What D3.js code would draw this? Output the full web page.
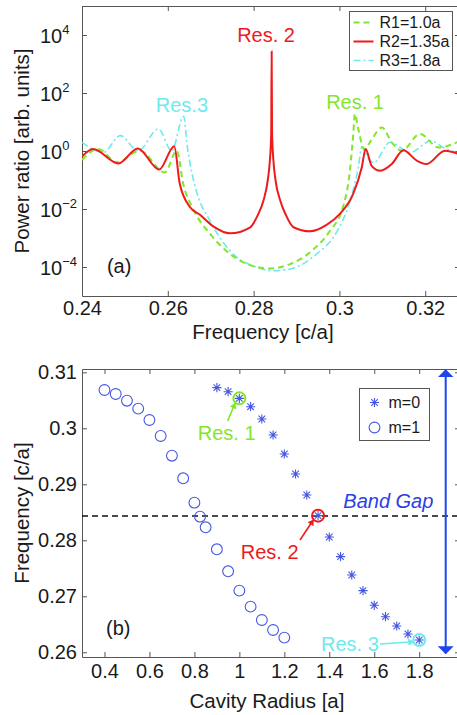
<!DOCTYPE html>
<html>
<head>
<meta charset="utf-8">
<script src="https://cdnjs.cloudflare.com/ajax/libs/d3/7.8.5/d3.min.js"></script>
<style>
  body { margin: 0; background: #fff; }
  svg { display: block; font-family: "Liberation Sans", Arial, sans-serif; }
</style>
</head>
<body>
<div id="chart"></div>
<script>
// ---- panel (a): transmission spectra, [frequency c/a, log10(power ratio)] ----
const specR1 = [
  [0.2400,-0.31],[0.2438,0.07],[0.2481,-0.39],[0.2535,0.01],[0.2593,-0.74],[0.2621,0.01],
  [0.2636,-1.14],[0.2659,-2.0],[0.2698,-2.85],[0.2745,-3.55],[0.2807,-4.0],[0.2838,-4.05],
  [0.2885,-3.9],[0.2939,-3.4],[0.2978,-2.75],[0.3009,-1.9],[0.3025,-0.6],[0.3032,0.55],
  [0.3036,1.28],[0.3044,0.75],[0.3058,0.05],[0.3071,0.3],[0.3099,0.81],[0.3122,0.3],
  [0.3145,0.01],[0.3188,0.59],[0.3231,0.12],[0.3281,0.35]
];
const specR2 = [
  [0.2400,-0.19],[0.2426,0.07],[0.2485,-0.43],[0.2530,0.09],[0.2580,-0.64],[0.2615,0.16],
  [0.2628,-1.14],[0.2652,-1.94],[0.2675,-2.2],[0.2706,-2.6],[0.2745,-2.84],[0.2792,-2.63],
  [0.2810,-2.2],[0.2823,-1.71],[0.2833,-1.0],[0.2838,-0.3],[0.2841,0.6],[0.2842,3.43],
  [0.2843,0.6],[0.2846,-0.3],[0.2851,-1.0],[0.2862,-1.71],[0.2875,-2.2],[0.2893,-2.63],
  [0.2931,-2.77],[0.2970,-2.55],[0.3001,-2.17],[0.3032,-1.48],[0.3052,-0.57],[0.3061,0.07],
  [0.3075,-0.51],[0.3095,-0.68],[0.3122,-0.45],[0.3149,0.03],[0.3180,-0.33],[0.3203,-0.45],
  [0.3246,0.01],[0.3281,-0.12]
];
const specR3 = [
  [0.2400,0.3],[0.2450,-0.05],[0.2489,0.53],[0.2531,0.01],[0.2578,0.76],[0.2609,0.01],
  [0.2637,1.2],[0.2645,0.2],[0.2652,-0.45],[0.2667,-1.4],[0.2698,-2.4],[0.2745,-3.44],
  [0.2807,-4.01],[0.2846,-4.13],[0.2885,-4.07],[0.2947,-3.55],[0.2994,-2.78],[0.3025,-1.71],
  [0.3044,-0.57],[0.3052,0.15],[0.3067,-0.25],[0.3080,-0.4],[0.3118,0.3],[0.3165,-0.05],
  [0.3213,0.35],[0.3242,0.12],[0.3281,-0.1]
];
const seriesNames = ["R1=1.0a", "R2=1.35a", "R3=1.8a"];
const freqTicks = [0.24, 0.26, 0.28, 0.3, 0.32];
const powerExpTicks = [-4, -2, 0, 2, 4];

// ---- panel (b): cavity modes, [radius a, frequency c/a] ----
const modeM0 = [
  [0.9,0.30726],[0.95,0.30654],[1.0,0.30535],[1.05,0.30386],[1.1,0.30166],[1.15,0.29880],
  [1.2,0.29541],[1.25,0.29184],[1.3,0.28809],[1.35,0.28440],[1.4,0.28059],[1.45,0.27708],
  [1.5,0.27380],[1.55,0.27101],[1.6,0.26839],[1.65,0.26636],[1.7,0.26470],[1.75,0.26327],
  [1.8,0.26220]
];
const modeM1 = [
  [0.4,0.30684],[0.45,0.30613],[0.5,0.30493],[0.55,0.30351],[0.6,0.30148],[0.65,0.29863],
  [0.7,0.29511],[0.75,0.29107],[0.8,0.28672],[0.825,0.28422],[0.85,0.28232],[0.9,0.27839],
  [0.95,0.27446],[1.0,0.27101],[1.05,0.26815],[1.1,0.26577],[1.15,0.26398],[1.2,0.26262]
];
const modeNames = ["m=0", "m=1"];
const radiusTicks = [0.4, 0.6, 0.8, 1, 1.2, 1.4, 1.6, 1.8];
const modeFreqTicks = [0.26, 0.27, 0.28, 0.29, 0.3, 0.31];
const bandGapFreq = 0.28434;
const resonances = [[1.0,0.30535],[1.35,0.2844],[1.8,0.2622]];

const colR1 = "#82e62c", colR2 = "#ee1b1b", colR3 = "#6ceaee";
const resColors = [colR1, colR2, colR3];
const markBlue = "#4658e2";

const svg = d3.select("#chart").append("svg")
  .attr("width", 457).attr("height", 715);

const axisColor = "#555";

function styleAxis(g) {
  g.select(".domain").attr("stroke", axisColor);
  g.selectAll(".tick line").attr("stroke", axisColor);
  g.selectAll("text").attr("font-size", 20).attr("fill", "#1a1a1a");
}

// ================= panel (a) =================
const A = {left: 82, right: 460, top: 6, bottom: 296};
const xA = d3.scaleLinear().domain([0.24, 0.3281]).range([A.left, A.right]);
const yA = d3.scaleLog().domain([1e-5, 1e5]).range([A.bottom, A.top]);

svg.append("clipPath").attr("id", "clipA").append("rect")
  .attr("x", A.left).attr("y", A.top).attr("width", A.right - A.left).attr("height", A.bottom - A.top);

const gxA = svg.append("g").attr("transform", `translate(0,${A.bottom})`)
  .call(d3.axisBottom(xA).tickValues(freqTicks).tickFormat(d => String(d))
    .tickSizeInner(-5).tickSizeOuter(0).tickPadding(5));
styleAxis(gxA);
const gxA2 = svg.append("g").attr("transform", `translate(0,${A.top})`)
  .call(d3.axisTop(xA).tickValues(freqTicks).tickFormat("").tickSizeInner(-5).tickSizeOuter(0));
styleAxis(gxA2);

const gyA = svg.append("g").attr("transform", `translate(${A.left},0)`)
  .call(d3.axisLeft(yA).tickValues(powerExpTicks.map(e => Math.pow(10, e))).tickFormat("")
    .tickSizeInner(-5).tickSizeOuter(0));
styleAxis(gyA);
gyA.selectAll(".tick").each(function(d, i) {
  const t = d3.select(this).append("text")
    .attr("x", -42).attr("dy", "0.37em").attr("text-anchor", "start")
    .attr("font-size", 20).attr("fill", "#1a1a1a").text("10");
  t.append("tspan").attr("dy", -9).attr("font-size", 13)
    .text(String(powerExpTicks[i]).replace("-", "\u2212"));
});
const gyA2 = svg.append("g").attr("transform", `translate(${A.right},0)`)
  .call(d3.axisRight(yA).tickValues(powerExpTicks.map(e => Math.pow(10, e))).tickFormat("")
    .tickSizeInner(-5).tickSizeOuter(0));
styleAxis(gyA2);

const lineA = d3.line()
  .x(d => xA(d[0]))
  .y(d => yA(Math.pow(10, d[1])))
  .curve(d3.curveMonotoneX);

const plotA = svg.append("g").attr("clip-path", "url(#clipA)");
plotA.append("path").datum(specR3).attr("d", lineA)
  .attr("fill", "none").attr("stroke", colR3).attr("stroke-width", 1.6)
  .attr("stroke-dasharray", "7,3,2,3");
plotA.append("path").datum(specR1).attr("d", lineA)
  .attr("fill", "none").attr("stroke", colR1).attr("stroke-width", 2)
  .attr("stroke-dasharray", "6,4");
plotA.append("path").datum(specR2).attr("d", lineA)
  .attr("fill", "none").attr("stroke", colR2).attr("stroke-width", 2);

// annotations (a), in data units
const notesA = [
  {t: "Res. 2", f: 0.2829, e: 3.77, c: colR2, a: "middle"},
  {t: "Res.3", f: 0.2572, e: 1.355, c: colR3, a: "start"},
  {t: "Res. 1", f: 0.2969, e: 1.45, c: colR1, a: "start"},
  {t: "(a)", f: 0.2458, e: -4.21, c: "#1a1a1a", a: "start"}
];
svg.append("g").selectAll("text").data(notesA).join("text")
  .attr("x", d => xA(d.f)).attr("y", d => yA(Math.pow(10, d.e)))
  .attr("text-anchor", d => d.a).attr("font-size", 20).attr("fill", d => d.c)
  .text(d => d.t);

// legend (a)
const legA = svg.append("g").attr("transform", "translate(349.5,11.5)");
legA.append("rect").attr("width", 103).attr("height", 59)
  .attr("fill", "#fff").attr("stroke", "#555").attr("stroke-width", 1);
const legStyles = [
  {c: colR1, w: 2, dash: "6,4"},
  {c: colR2, w: 2, dash: null},
  {c: colR3, w: 1.6, dash: "7,3,2,3"}
];
seriesNames.forEach((name, i) => {
  const yy = 11 + i * 19;
  legA.append("line").attr("x1", 4).attr("x2", 24).attr("y1", yy).attr("y2", yy)
    .attr("stroke", legStyles[i].c).attr("stroke-width", legStyles[i].w)
    .attr("stroke-dasharray", legStyles[i].dash);
  legA.append("text").attr("x", 30).attr("y", yy).attr("dy", "0.36em")
    .attr("font-size", 16).attr("fill", "#1a1a1a").text(name);
});

svg.append("text")
  .attr("x", (A.left + A.right) / 2 - 1 - 7).attr("y", 339)
  .attr("text-anchor", "middle").attr("font-size", 20.5).attr("fill", "#1a1a1a")
  .text("Frequency [c/a]");
svg.append("text")
  .attr("transform", `translate(29,${(A.top + A.bottom) / 2}) rotate(-90)`)
  .attr("text-anchor", "middle").attr("font-size", 20.5).attr("fill", "#1a1a1a")
  .text("Power ratio [arb. units]");

// ================= panel (b) =================
const B = {left: 82, right: 460, top: 369, bottom: 657};
const xB = d3.scaleLinear().domain([0.3, 1.9815]).range([B.left, B.right]);
const yB = d3.scaleLinear().domain([0.25916, 0.31059]).range([B.bottom, B.top]);

const gxB = svg.append("g").attr("transform", `translate(0,${B.bottom})`)
  .call(d3.axisBottom(xB).tickValues(radiusTicks).tickFormat(d => String(d))
    .tickSizeInner(-5).tickSizeOuter(0).tickPadding(7));
styleAxis(gxB);
const gxB2 = svg.append("g").attr("transform", `translate(0,${B.top})`)
  .call(d3.axisTop(xB).tickValues(radiusTicks).tickFormat("").tickSizeInner(-5).tickSizeOuter(0));
styleAxis(gxB2);
const gyB = svg.append("g").attr("transform", `translate(${B.left},0)`)
  .call(d3.axisLeft(yB).tickValues(modeFreqTicks).tickFormat(d => String(d))
    .tickSizeInner(-5).tickSizeOuter(0).tickPadding(5));
styleAxis(gyB);
const gyB2 = svg.append("g").attr("transform", `translate(${B.right},0)`)
  .call(d3.axisRight(yB).tickValues(modeFreqTicks).tickFormat("").tickSizeInner(-5).tickSizeOuter(0));
styleAxis(gyB2);

// band gap line
svg.append("line")
  .attr("x1", B.left).attr("x2", B.right)
  .attr("y1", yB(bandGapFreq)).attr("y2", yB(bandGapFreq))
  .attr("stroke", "#111").attr("stroke-width", 1.4).attr("stroke-dasharray", "6,4");

function starPath(cx, cy) {
  const a = 4.6, b = 3.3;
  return `M${cx - a},${cy}h${2 * a}M${cx},${cy - a}v${2 * a}` +
         `M${cx - b},${cy - b}l${2 * b},${2 * b}M${cx - b},${cy + b}l${2 * b},${-2 * b}`;
}

svg.append("g").selectAll("circle").data(modeM1).join("circle")
  .attr("cx", d => xB(d[0])).attr("cy", d => yB(d[1])).attr("r", 5.4)
  .attr("fill", "none").attr("stroke", markBlue).attr("stroke-width", 1.1);

svg.append("g").selectAll("path").data(modeM0).join("path")
  .attr("d", d => starPath(xB(d[0]), yB(d[1])))
  .attr("fill", "none").attr("stroke", markBlue).attr("stroke-width", 1.1);

svg.append("g").selectAll("circle").data(resonances).join("circle")
  .attr("cx", d => xB(d[0])).attr("cy", d => yB(d[1])).attr("r", 6)
  .attr("fill", "none").attr("stroke", (d, i) => resColors[i]).attr("stroke-width", 2);

// arrows (b), in data units
const defs = svg.append("defs");
[["g", colR1], ["r", colR2], ["c", colR3], ["b", "#1d45ee"]].forEach(([id, c]) => {
  defs.append("marker").attr("id", "ah-" + id)
    .attr("viewBox", "0 0 10 10").attr("refX", 9).attr("refY", 5)
    .attr("markerWidth", id === "b" ? 4 : 3.5).attr("markerHeight", id === "b" ? 8 : 4.5)
    .attr("markerUnits", "strokeWidth").attr("orient", "auto-start-reverse")
    .attr("preserveAspectRatio", "none")
    .append("path").attr("d", "M0,0L10,5L0,10z").attr("fill", c);
});
const arrowsB = [
  {x1: 0.9481, y1: 0.30130, x2: 0.9806, y2: 0.30446, id: "g", c: colR1, w: 1.6},
  {x1: 1.2698, y1: 0.28005, x2: 1.3289, y2: 0.28362, id: "r", c: colR2, w: 1.6},
  {x1: 1.6256, y1: 0.26148, x2: 1.7738, y2: 0.26189, id: "c", c: colR3, w: 1.6}
];
svg.append("g").selectAll("line").data(arrowsB).join("line")
  .attr("x1", d => xB(d.x1)).attr("y1", d => yB(d.y1))
  .attr("x2", d => xB(d.x2)).attr("y2", d => yB(d.y2))
  .attr("stroke", d => d.c).attr("stroke-width", d => d.w)
  .attr("marker-end", d => `url(#ah-${d.id})`);

svg.append("line")
  .attr("x1", xB(1.9179)).attr("x2", xB(1.9179))
  .attr("y1", yB(0.3104)).attr("y2", yB(0.2598))
  .attr("stroke", "#1d45ee").attr("stroke-width", 2)
  .attr("marker-start", "url(#ah-b)").attr("marker-end", "url(#ah-b)");

const notesB = [
  {t: "Res. 1", r: 0.8147, f: 0.29791, c: colR1, s: "normal"},
  {t: "Res. 2", r: 1.0060, f: 0.27666, c: colR2, s: "normal"},
  {t: "Res. 3", r: 1.3632, f: 0.26023, c: colR3, s: "normal"},
  {t: "Band Gap", r: 1.4624, f: 0.28582, c: "#2a40e6", s: "italic"},
  {t: "(b)", r: 0.4068, f: 0.26309, c: "#1a1a1a", s: "normal"}
];
svg.append("g").selectAll("text").data(notesB).join("text")
  .attr("x", d => xB(d.r)).attr("y", d => yB(d.f))
  .attr("font-size", 20).attr("font-style", d => d.s).attr("fill", d => d.c)
  .text(d => d.t);

// legend (b)
const legB = svg.append("g").attr("transform", "translate(359.5,388.5)");
legB.append("rect").attr("width", 70).attr("height", 52)
  .attr("fill", "#fff").attr("stroke", "#555").attr("stroke-width", 1);
legB.append("path").attr("d", starPath(15, 14))
  .attr("fill", "none").attr("stroke", markBlue).attr("stroke-width", 1.1);
legB.append("circle").attr("cx", 15).attr("cy", 39).attr("r", 5.4)
  .attr("fill", "none").attr("stroke", markBlue).attr("stroke-width", 1.1);
modeNames.forEach((name, i) => {
  legB.append("text").attr("x", 29).attr("y", 14 + i * 25).attr("dy", "0.36em")
    .attr("font-size", 16).attr("fill", "#1a1a1a").text(name);
});

svg.append("text")
  .attr("x", 267).attr("y", 708)
  .attr("text-anchor", "middle").attr("font-size", 20.5).attr("fill", "#1a1a1a")
  .text("Cavity Radius [a]");
svg.append("text")
  .attr("transform", `translate(29,${(B.top + B.bottom) / 2}) rotate(-90)`)
  .attr("text-anchor", "middle").attr("font-size", 20.5).attr("fill", "#1a1a1a")
  .text("Frequency [c/a]");
</script>
</body>
</html>
